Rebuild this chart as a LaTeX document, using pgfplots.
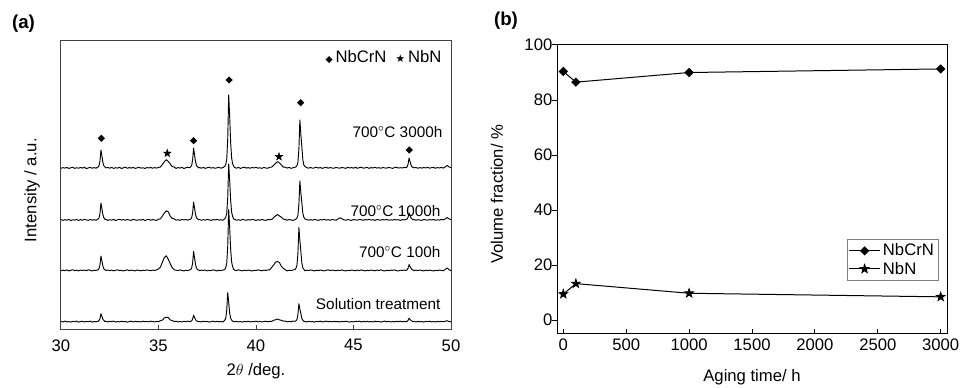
\documentclass[border=0pt]{standalone}
\usepackage{pgfplots}
\pgfplotsset{compat=1.18}
\usepackage{pgfplotstable}
\usepackage{fontspec}
\setmainfont{Liberation Sans}
\newfontfamily\sym{DejaVu Sans}

\pgfdeclareplotmark{fstar}{%
  \pgfpathmoveto{\pgfpointpolar{90}{\pgfplotmarksize}}%
  \pgfpathlineto{\pgfpointpolar{126}{0.4\pgfplotmarksize}}%
  \pgfpathlineto{\pgfpointpolar{162}{\pgfplotmarksize}}%
  \pgfpathlineto{\pgfpointpolar{198}{0.4\pgfplotmarksize}}%
  \pgfpathlineto{\pgfpointpolar{234}{\pgfplotmarksize}}%
  \pgfpathlineto{\pgfpointpolar{270}{0.4\pgfplotmarksize}}%
  \pgfpathlineto{\pgfpointpolar{306}{\pgfplotmarksize}}%
  \pgfpathlineto{\pgfpointpolar{342}{0.4\pgfplotmarksize}}%
  \pgfpathlineto{\pgfpointpolar{18}{\pgfplotmarksize}}%
  \pgfpathlineto{\pgfpointpolar{54}{0.4\pgfplotmarksize}}%
  \pgfpathclose
  \pgfusepathqfillstroke}

\pgfplotstableread{
x st h100 h1000 h3000
30.0 8.6 59.2 110.5 161.7
30.1 8.0 59.9 109.6 162.4
30.2 8.9 59.3 110.3 161.9
30.3 8.1 60.1 109.8 162.6
30.4 8.5 59.0 110.7 161.5
30.5 7.8 59.7 109.4 162.2
30.6 8.7 60.2 110.2 162.8
30.7 8.2 59.4 109.9 161.6
30.8 8.9 59.8 110.6 162.3
30.9 7.9 59.1 109.5 161.8
31.0 8.4 60.0 110.4 162.5
31.1 8.8 59.5 109.7 161.9
31.2 8.0 59.9 110.8 162.7
31.3 8.6 59.2 110.1 161.4
31.4 8.2 60.3 109.6 162.1
31.5 8.9 59.6 110.5 162.6
31.6 7.9 59.0 109.9 161.8
31.7 8.5 59.8 110.3 162.4
31.8 8.1 59.4 109.7 161.7
31.85 8.6 60.0 110.5 162.7
31.9 8.6 60.1 110.9 162.8
31.95 9.4 61.3 112.1 164.4
32.0 11.5 65.3 116.8 169.2
32.05 16.3 74.0 127.0 180.0
32.1 13.5 68.9 121.0 173.7
32.15 10.7 63.9 115.1 167.4
32.2 9.5 61.0 112.2 164.0
32.25 8.5 60.4 110.7 163.2
32.3 8.8 59.5 110.7 162.1
32.4 8.0 60.0 109.6 162.5
32.5 8.7 59.3 110.3 161.8
32.6 8.3 59.9 109.8 162.6
32.7 8.9 59.1 110.6 161.6
32.8 7.9 59.7 109.5 162.3
32.9 8.5 60.2 110.2 161.9
33.0 8.1 59.4 110.7 162.7
33.1 8.8 59.8 109.9 161.5
33.2 8.2 59.0 110.4 162.2
33.3 8.6 59.6 109.7 162.8
33.4 7.8 60.1 110.5 161.7
33.5 8.4 59.3 110.0 162.4
33.6 8.9 59.9 109.6 161.9
33.7 8.0 59.5 110.8 162.6
33.8 8.7 59.1 110.1 161.6
33.9 8.2 60.0 109.7 162.1
34.0 8.5 59.6 110.3 162.7
34.1 8.0 59.2 109.9 161.8
34.2 8.8 59.8 110.6 162.3
34.3 8.3 59.4 109.5 161.5
34.4 8.6 60.1 110.2 162.5
34.5 8.1 59.7 110.7 162.0
34.6 8.9 59.3 109.8 162.6
34.7 8.4 59.9 110.4 161.7
34.8 8.0 59.5 110.0 162.4
34.9 8.7 60.0 109.6 161.9
35.0 8.4 61.1 110.8 162.6
35.1 9.3 62.9 111.2 163.0
35.2 9.9 67.8 114.0 165.6
35.3 12.1 72.5 117.1 168.3
35.4 12.8 74.2 119.2 170.3
35.5 12.4 70.8 118.2 168.5
35.6 10.0 66.4 113.8 166.1
35.7 9.5 62.4 111.7 163.4
35.8 8.5 60.3 111.1 163.1
35.9 8.8 59.8 109.8 161.6
36.0 8.1 59.4 110.3 162.4
36.1 8.5 60.1 109.6 161.9
36.2 8.0 59.6 110.7 162.7
36.3 8.7 59.0 110.0 161.5
36.4 8.3 59.8 110.5 162.2
36.5 8.9 59.3 109.9 162.8
36.6 8.3 60.1 110.6 162.2
36.65 8.8 60.4 110.8 163.3
36.7 9.1 61.9 112.3 164.4
36.75 10.9 67.1 117.2 170.0
36.8 14.8 78.5 128.0 182.0
36.85 12.5 71.9 121.7 175.0
36.9 10.4 65.2 115.5 168.1
36.95 9.0 62.0 112.1 164.3
37.0 8.9 60.3 111.3 163.4
37.05 8.2 60.2 110.2 162.1
37.1 8.5 59.2 110.5 162.5
37.2 8.0 59.9 109.7 161.8
37.3 8.8 59.5 110.3 162.6
37.4 8.3 60.0 109.9 161.6
37.5 8.6 59.1 110.6 162.3
37.6 7.9 59.7 110.1 162.8
37.7 8.4 59.3 109.6 161.9
37.8 8.9 60.2 110.4 162.4
37.9 8.1 59.6 110.0 161.7
38.0 8.7 59.0 110.7 162.2
38.1 8.2 59.8 109.8 162.7
38.2 8.5 59.4 110.3 161.8
38.3 8.0 59.9 109.7 162.5
38.4 9.8 60.5 111.3 163.6
38.45 11.8 62.6 112.8 165.7
38.5 19.9 66.8 116.7 170.8
38.55 37.3 83.9 132.4 191.2
38.6 27.2 120.5 166.0 235.0
38.65 17.0 102.2 149.2 213.1
38.7 11.8 80.9 129.6 187.6
38.75 9.8 68.0 117.8 172.2
38.8 8.9 63.4 113.6 166.2
38.85 8.5 60.8 111.3 164.1
38.9 8.2 59.9 110.5 162.5
39.0 8.7 59.4 109.8 161.8
39.1 8.1 60.1 110.3 162.6
39.2 8.5 59.6 109.6 161.6
39.3 7.9 59.1 110.6 162.3
39.4 8.6 59.8 110.1 162.8
39.5 8.2 59.3 109.7 161.9
39.6 8.8 60.0 110.4 162.4
39.7 8.0 59.5 109.9 161.7
39.8 8.5 59.0 110.7 162.5
39.9 8.3 59.7 110.2 162.1
40.0 8.9 59.4 109.5 162.7
40.1 8.1 60.2 110.3 161.8
40.2 8.6 59.6 109.8 162.3
40.3 8.0 59.2 110.5 161.6
40.4 8.4 59.9 110.0 162.6
40.5 8.8 59.5 109.6 162.0
40.6 8.2 60.0 110.4 161.7
40.7 8.6 60.2 110.4 162.7
40.8 8.5 62.5 110.5 162.8
40.9 9.7 64.8 112.3 164.6
41.0 10.2 67.8 114.0 166.6
41.1 11.0 68.4 115.4 168.3
41.2 10.1 67.5 114.1 167.1
41.3 9.7 63.7 112.8 165.2
41.4 8.8 61.7 110.9 162.8
41.5 9.0 60.2 110.6 162.8
41.6 8.1 59.1 109.7 161.9
41.7 8.6 59.8 110.5 162.6
41.8 8.2 59.4 110.0 161.6
41.9 8.9 60.0 109.6 162.3
42.0 8.7 60.4 110.4 162.7
42.05 9.2 61.7 111.0 163.1
42.1 10.5 64.7 112.0 164.4
42.15 15.5 76.7 114.7 167.8
42.2 26.3 102.5 125.6 181.2
42.25 20.9 89.6 149.0 210.0
42.3 16.4 78.9 137.3 195.6
42.35 11.5 67.2 127.6 183.6
42.4 9.8 62.3 117.0 170.6
42.45 8.6 61.0 112.9 165.2
42.5 8.6 59.2 111.1 163.7
42.6 8.0 59.9 110.5 162.4
42.7 8.7 59.4 109.8 161.8
42.8 8.2 60.1 110.3 162.6
42.9 8.5 59.6 109.7 161.7
43.0 7.9 59.0 110.6 162.2
43.1 8.6 59.8 110.1 162.8
43.2 8.3 59.3 109.6 161.9
43.3 8.8 60.0 110.4 162.5
43.4 8.0 59.5 110.0 161.6
43.5 8.4 59.1 110.7 162.3
43.6 8.9 59.7 109.9 162.7
43.7 8.2 60.2 110.3 161.8
43.8 8.6 59.4 109.7 162.4
43.9 8.1 59.9 110.5 162.0
44.0 8.7 59.6 110.1 161.7
44.1 8.3 59.2 109.8 162.6
44.2 8.5 59.8 110.9 162.1
44.3 8.0 59.4 112.3 161.8
44.4 8.6 60.1 111.4 162.5
44.5 8.2 59.5 110.2 162.2
44.6 8.8 59.0 109.7 161.6
44.7 8.4 59.7 110.4 162.7
44.8 7.9 59.3 110.0 162.0
44.9 8.5 60.0 109.6 162.4
45.0 8.1 59.6 110.5 161.9
45.1 8.7 59.2 110.1 162.6
45.2 8.3 59.9 109.8 161.7
45.3 8.9 59.4 110.6 162.3
45.4 8.0 60.1 110.2 162.8
45.5 8.6 59.5 109.7 161.8
45.6 8.2 59.1 110.4 162.2
45.7 8.7 59.8 110.0 162.6
45.8 8.1 59.3 110.7 161.6
45.9 8.5 60.0 109.9 162.4
46.0 8.0 59.6 110.3 162.0
46.1 8.8 59.2 109.6 162.7
46.2 8.3 59.9 110.5 161.9
46.3 8.6 59.5 110.1 162.3
46.4 7.9 60.2 109.8 161.7
46.5 8.4 59.4 110.4 162.5
46.6 8.9 59.0 110.0 162.1
46.7 8.2 59.7 110.6 161.8
46.8 8.6 59.3 109.7 162.6
46.9 8.0 59.9 110.2 162.2
47.0 8.5 59.6 109.9 161.6
47.1 8.1 60.1 110.5 162.4
47.2 8.7 59.4 110.0 162.8
47.3 8.3 59.0 110.3 161.9
47.4 8.8 59.8 109.6 162.3
47.5 8.2 59.5 110.4 162.0
47.6 8.5 60.0 110.1 162.6
47.65 8.4 59.6 110.2 162.3
47.7 8.2 59.5 110.8 162.3
47.75 8.7 60.2 110.8 163.2
47.8 9.7 61.9 112.8 166.0
47.85 11.8 65.5 117.0 172.0
47.9 10.6 63.4 114.6 168.5
47.95 9.4 61.9 112.1 165.0
48.0 8.9 60.3 111.0 163.0
48.05 8.3 60.1 110.2 162.8
48.1 8.6 59.3 110.4 162.1
48.2 8.0 59.9 109.7 162.6
48.3 8.7 59.4 110.3 161.7
48.4 8.2 60.0 110.0 162.4
48.5 8.5 59.6 109.6 161.9
48.6 7.9 59.1 110.5 162.5
48.7 8.6 59.8 110.1 162.0
48.8 8.3 59.4 109.8 162.7
48.9 8.8 59.9 110.4 161.8
49.0 8.1 59.5 110.0 162.3
49.1 8.5 59.0 110.6 162.6
49.2 8.0 59.7 109.7 161.7
49.3 8.7 59.3 110.2 162.4
49.4 8.2 60.0 109.9 162.0
49.5 8.6 59.6 110.5 162.6
49.6 8.3 59.2 110.1 161.9
49.7 8.7 60.5 111.0 163.0
49.8 9.3 62.0 112.5 164.5
49.9 8.5 60.3 111.1 163.1
50.0 8.2 59.4 110.3 162.2
}\xrd

\newcommand{\fa}{\fontsize{12.5}{15}\selectfont}
\newcommand{\fb}{\fontsize{11.5}{14}\selectfont}

\pgfplotsset{
  every tick label/.append style={font=\fa},
  /pgf/number format/assume math mode=true,
  /pgf/number format/1000 sep={},
}

\begin{document}
\begin{tikzpicture}
\useasboundingbox (0,0) rectangle (720pt,291pt);

\node[font=\bfseries\fontsize{14}{16}\selectfont] at (17.6pt,273.4pt) {(a)};
\node[font=\bfseries\fontsize{14}{16}\selectfont] at (379.5pt,275.2pt) {(b)};

% ---------------- panel (a)
\begin{axis}[
  at={(45.75pt,43.5pt)}, anchor=south west,
  scale only axis, width=292.5pt, height=216.75pt,
  xmin=30, xmax=50, ymin=0, ymax=289,
  xtick={30,35,40,45,50}, ytick=\empty,
  xtick pos=left, xticklabel pos=left,
  tick align=inside, major tick length=3.75pt,
  axis line style={black!75, line width=0.75pt},
  xtick style={black!75, line width=0.75pt},
  xticklabel style={yshift=-3.5pt},
  xlabel={2$\theta$ /deg.},
  xlabel style={at={(axis description cs:0.5,-0.144)}, anchor=center, font=\fa},
  ylabel={Intensity / a.u.},
  ylabel style={at={(axis description cs:-0.074,0.484)}, anchor=center, font=\fa},
]
\addplot[black, line width=0.7pt, line join=round] table[x=x, y=st] {\xrd};
\addplot[black, line width=0.7pt, line join=round] table[x=x, y=h100] {\xrd};
\addplot[black, line width=0.7pt, line join=round] table[x=x, y=h1000] {\xrd};
\addplot[black, line width=0.7pt, line join=round] table[x=x, y=h3000] {\xrd};
% phase markers
\addplot[black, only marks, mark=square*, mark size=1.7pt, mark options={rotate=45}]
  coordinates {(32.07,191.7) (36.8,189.3) (38.62,250) (42.29,227.3) (47.86,180)};
\addplot[black, only marks, mark=fstar, mark size=2.9pt]
  coordinates {(35.45,176.7) (41.18,173.3)};

\node[anchor=east, font=\fb] at (axis cs:49.8,198) {700$^{\circ}$C 3000h};
\node[anchor=east, font=\fb] at (axis cs:49.7,119) {700$^{\circ}$C 1000h};
\node[anchor=east, font=\fb] at (axis cs:49.7,78) {700$^{\circ}$C 100h};
\node[anchor=east, font=\fb] at (axis cs:49.7,26) {Solution treatment};
\node[anchor=east, font=\fa] at (axis cs:49.75,273)
  {{\sym\fontsize{7}{8}\selectfont ◆}\,NbCrN\ \ {\sym\fontsize{8}{8}\selectfont ★}\,NbN};
\end{axis}

% ---------------- panel (b)
\begin{axis}[
  at={(417.75pt,40.5pt)}, anchor=south west,
  scale only axis, width=292.5pt, height=216.75pt,
  xmin=-50, xmax=3050, ymin=-5, ymax=100,
  xtick={0,500,...,3000}, ytick={0,20,...,100},
  scaled x ticks=false,
  xtick pos=left, ytick pos=left,
  tick align=inside, major tick length=3.75pt,
  axis line style={black, line width=0.75pt},
  tick style={black, line width=0.75pt},
  ytick style={xshift=-3.75pt},
  xlabel={Aging time/ h},
  xlabel style={at={(axis description cs:0.5,-0.148)}, anchor=center, font=\fa},
  ylabel={Volume fraction/ \%},
  ylabel style={at={(axis description cs:-0.154,0.484)}, anchor=center, font=\fa},
  legend style={at={(0.979,0.329)}, anchor=north east, draw=black!50,
    font=\fa, inner sep=1.5pt, row sep=-1pt, cells={anchor=west}},
  legend image code/.code={\draw[mark repeat=2,mark phase=2]
    plot coordinates {(0cm,0cm) (0.4cm,0cm) (0.8cm,0cm)};},
]
\addplot[black, line width=0.75pt, mark=square*, mark size=2.1pt, mark options={rotate=45}]
  coordinates {(0,90.4) (100,86.5) (1000,90.0) (3000,91.3)};
\addplot[black, line width=0.75pt, mark=fstar, mark size=3.2pt]
  coordinates {(0,9.5) (100,13.3) (1000,9.8) (3000,8.5)};
\legend{NbCrN,NbN}
\end{axis}
\end{tikzpicture}
\end{document}
